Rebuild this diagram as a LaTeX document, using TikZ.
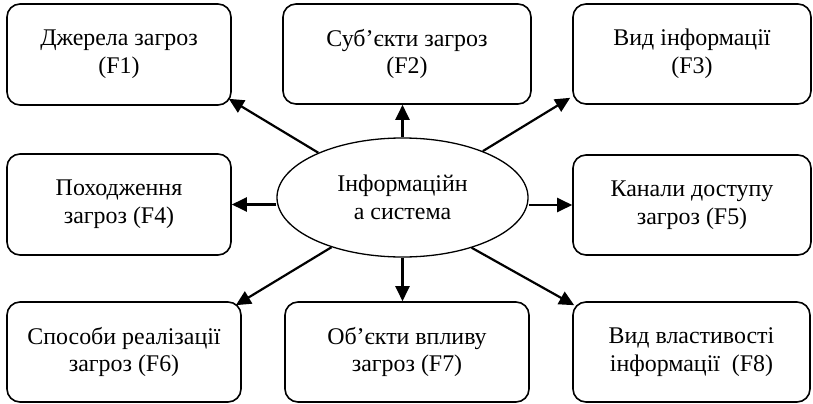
\documentclass[tikz,border=0pt]{standalone}
\usepackage{fontspec}
\setmainfont{Liberation Serif}
\usetikzlibrary{arrows.meta,shapes.geometric}
\begin{document}
\begin{tikzpicture}[x=1bp,y=1bp,
  factor/.style={draw,line width=1.6bp,rounded corners=13bp,align=center,
    font=\fontsize{24}{28}\selectfont,inner sep=0pt},
  core/.style={draw,ellipse,line width=1.3bp,align=center,
    font=\fontsize{24}{28}\selectfont,inner sep=0pt,
    minimum width=251bp,minimum height=119bp},
  link/.style={line width=2.2bp,-{Triangle[length=15bp,width=14bp]}}]
\useasboundingbox (0,0) rectangle (813,403);
\node[core] (sys) at (402.5,205.5) {Інформаційн\\а система};
\node[factor,minimum width=224bp,minimum height=101bp] (f1) at (119,348.5) {Джерела загроз\\(F1)};
\node[factor,minimum width=248bp,minimum height=100bp] (f2) at (407,349) {Суб’єкти загроз\\(F2)};
\node[factor,minimum width=238bp,minimum height=100bp] (f3) at (692,349) {Вид інформації\\(F3)};
\node[factor,minimum width=224bp,minimum height=101bp] (f4) at (119,198.5) {Походження\\загроз (F4)};
\node[factor,minimum width=238bp,minimum height=100bp] (f5) at (692,198) {Канали доступу\\загроз (F5)};
\node[factor,minimum width=234bp,minimum height=100bp] (f6) at (124,51) {Способи реалізації\\загроз (F6)};
\node[factor,minimum width=244bp,minimum height=100bp] (f7) at (407,51) {Об’єкти впливу\\загроз (F7)};
\node[factor,minimum width=237bp,minimum height=100bp] (f8) at (691.5,51) {Вид властивості\\інформації~ (F8)};
\draw[link] (sys.152) -- ([xshift=-3bp,yshift=7bp]f1.south east);
\draw[link] (sys.north) -- (sys.north |- f2.south);
\draw[link] (sys.30) -- ([xshift=-2bp,yshift=7bp]f3.south west);
\draw[link] (f4.east -| sys.west) -- (f4.east);
\draw[link] (f5.west -| sys.east) -- (f5.west);
\draw[link] (sys.215) -- ([xshift=-6bp,yshift=-4bp]f6.north east);
\draw[link] (sys.south) -- (sys.south |- f7.north);
\draw[link] (sys.324) -- ([xshift=2bp,yshift=-4bp]f8.north west);
\end{tikzpicture}
\end{document}
